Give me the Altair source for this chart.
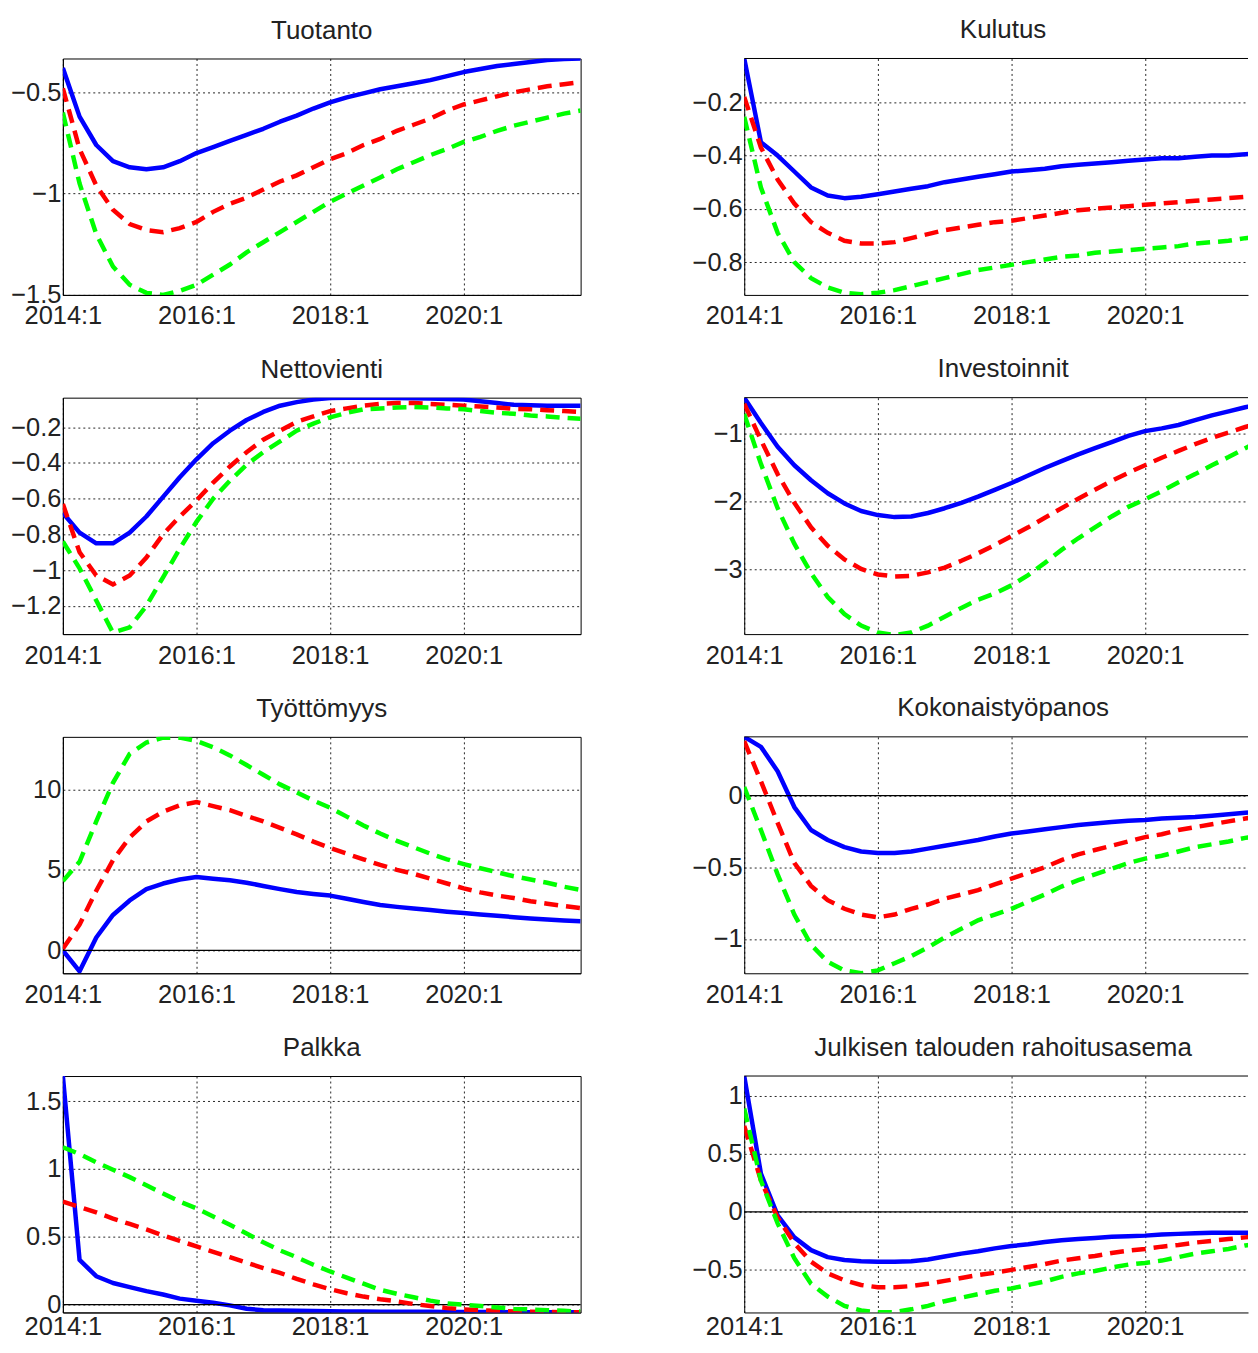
import altair as alt
import pandas as pd

# ---------------- data ----------------
quarter_index = list(range(32))          # 2014:1 ... 2021:4
x_tick_values = [0, 8, 16, 24]
x_tick_labels = ["2014:1", "2016:1", "2018:1", "2020:1"]

panel_titles = ["Tuotanto", "Kulutus", "Nettovienti", "Investoinnit",
                "Työttömyys", "Kokonaistyöpanos", "Palkka",
                "Julkisen talouden rahoitusasema"]

tuotanto_blue = [-0.38, -0.62, -0.76, -0.84, -0.87, -0.88, -0.87, -0.84, -0.80, -0.77, -0.74, -0.71, -0.68, -0.645, -0.615, -0.58,
                 -0.55, -0.525, -0.505, -0.485, -0.47, -0.455, -0.44, -0.42, -0.40, -0.385, -0.37, -0.36, -0.35, -0.34, -0.335, -0.333]
tuotanto_red = [-0.48, -0.78, -0.96, -1.08, -1.15, -1.18, -1.19, -1.17, -1.14, -1.09, -1.05, -1.02, -0.98, -0.94, -0.91, -0.87,
                -0.83, -0.80, -0.76, -0.73, -0.69, -0.66, -0.63, -0.59, -0.56, -0.54, -0.52, -0.50, -0.485, -0.47, -0.46, -0.45]
tuotanto_green = [-0.60, -0.95, -1.20, -1.36, -1.45, -1.49, -1.50, -1.48, -1.45, -1.40, -1.35, -1.29, -1.24, -1.19, -1.14, -1.09,
                  -1.04, -1.00, -0.96, -0.92, -0.88, -0.845, -0.81, -0.78, -0.745, -0.72, -0.69, -0.665, -0.645, -0.625, -0.605, -0.59]

kulutus_blue = [-0.036, -0.35, -0.40, -0.46, -0.52, -0.55, -0.56, -0.555, -0.545, -0.535, -0.525, -0.515, -0.50, -0.49, -0.48, -0.47,
                -0.46, -0.455, -0.45, -0.44, -0.435, -0.43, -0.425, -0.42, -0.415, -0.41, -0.41, -0.405, -0.40, -0.40, -0.395, -0.39]
kulutus_red = [-0.18, -0.37, -0.49, -0.58, -0.65, -0.69, -0.72, -0.73, -0.73, -0.725, -0.71, -0.695, -0.68, -0.67, -0.66, -0.65,
               -0.645, -0.635, -0.625, -0.615, -0.605, -0.60, -0.595, -0.59, -0.585, -0.58, -0.575, -0.57, -0.565, -0.56, -0.555, -0.55]
kulutus_green = [-0.255, -0.52, -0.69, -0.80, -0.86, -0.895, -0.915, -0.92, -0.915, -0.905, -0.89, -0.875, -0.86, -0.845, -0.83, -0.82,
                 -0.81, -0.80, -0.79, -0.78, -0.775, -0.765, -0.76, -0.755, -0.75, -0.745, -0.74, -0.73, -0.725, -0.72, -0.71, -0.705]

netto_blue = [-0.68, -0.79, -0.85, -0.85, -0.79, -0.70, -0.59, -0.48, -0.38, -0.29, -0.22, -0.16, -0.115, -0.08, -0.06, -0.045,
              -0.037, -0.035, -0.035, -0.036, -0.037, -0.038, -0.04, -0.042, -0.045, -0.055, -0.065, -0.075, -0.078, -0.08, -0.08, -0.08]
netto_red = [-0.63, -0.90, -1.03, -1.08, -1.03, -0.93, -0.80, -0.70, -0.61, -0.51, -0.42, -0.34, -0.27, -0.22, -0.17, -0.14,
             -0.11, -0.095, -0.08, -0.07, -0.065, -0.065, -0.07, -0.075, -0.08, -0.085, -0.09, -0.097, -0.10, -0.105, -0.11, -0.115]
netto_green = [-0.84, -0.99, -1.17, -1.35, -1.32, -1.20, -1.04, -0.88, -0.73, -0.60, -0.50, -0.41, -0.34, -0.28, -0.22, -0.18,
               -0.145, -0.12, -0.10, -0.095, -0.09, -0.087, -0.09, -0.095, -0.10, -0.11, -0.12, -0.125, -0.135, -0.14, -0.148, -0.153]

invest_blue = [-0.48, -0.85, -1.20, -1.47, -1.69, -1.88, -2.03, -2.14, -2.20, -2.23, -2.22, -2.17, -2.10, -2.02, -1.93, -1.83,
               -1.73, -1.62, -1.51, -1.41, -1.31, -1.22, -1.13, -1.04, -0.97, -0.93, -0.88, -0.81, -0.74, -0.68, -0.62, -0.57]
invest_red = [-0.57, -1.10, -1.60, -2.02, -2.38, -2.65, -2.85, -2.99, -3.07, -3.10, -3.09, -3.04, -2.97, -2.87, -2.76, -2.64,
              -2.51, -2.38, -2.24, -2.10, -1.96, -1.83, -1.70, -1.58, -1.47, -1.36, -1.26, -1.16, -1.07, -0.99, -0.91, -0.84]
invest_green = [-0.72, -1.45, -2.10, -2.62, -3.05, -3.40, -3.65, -3.82, -3.92, -3.96, -3.92, -3.82, -3.69, -3.56, -3.44, -3.35,
                -3.23, -3.08, -2.90, -2.71, -2.54, -2.38, -2.22, -2.08, -1.97, -1.85, -1.72, -1.60, -1.47, -1.35, -1.22, -1.10]

tyott_blue = [0.0, -1.3, 0.8, 2.2, 3.1, 3.8, 4.15, 4.4, 4.55, 4.45, 4.35, 4.2, 4.0, 3.8, 3.62, 3.5,
              3.4, 3.2, 3.0, 2.82, 2.7, 2.6, 2.5, 2.4, 2.32, 2.23, 2.15, 2.06, 1.98, 1.92, 1.86, 1.81]
tyott_red = [0.1, 1.6, 3.7, 5.6, 7.0, 8.0, 8.6, 9.0, 9.2, 8.95, 8.7, 8.35, 8.0, 7.6, 7.2, 6.75,
             6.35, 6.0, 5.65, 5.3, 5.0, 4.75, 4.45, 4.15, 3.85, 3.6, 3.4, 3.25, 3.05, 2.9, 2.75, 2.63]
tyott_green = [4.3, 5.5, 8.0, 10.4, 12.2, 12.9, 13.2, 13.2, 13.0, 12.6, 12.1, 11.5, 10.9, 10.3, 9.8, 9.3,
               8.85, 8.3, 7.75, 7.25, 6.8, 6.4, 6.0, 5.65, 5.35, 5.1, 4.85, 4.6, 4.4, 4.2, 3.95, 3.75]

koko_blue = [0.41, 0.34, 0.17, -0.08, -0.24, -0.31, -0.36, -0.39, -0.40, -0.40, -0.39, -0.37, -0.35, -0.33, -0.31, -0.285,
             -0.265, -0.25, -0.235, -0.22, -0.205, -0.195, -0.185, -0.175, -0.17, -0.16, -0.155, -0.15, -0.14, -0.13, -0.12, -0.11]
koko_red = [0.38, 0.10, -0.19, -0.47, -0.63, -0.73, -0.79, -0.83, -0.85, -0.83, -0.79, -0.76, -0.72, -0.69, -0.66, -0.62,
            -0.58, -0.54, -0.50, -0.45, -0.41, -0.38, -0.35, -0.32, -0.29, -0.27, -0.24, -0.22, -0.20, -0.18, -0.16, -0.14]
koko_green = [0.06, -0.24, -0.55, -0.83, -1.04, -1.16, -1.22, -1.24, -1.22, -1.17, -1.12, -1.06, -0.99, -0.93, -0.87, -0.83,
              -0.79, -0.74, -0.69, -0.635, -0.59, -0.55, -0.51, -0.47, -0.44, -0.42, -0.39, -0.36, -0.34, -0.32, -0.295, -0.28]

palkka_blue = [1.685, 0.33, 0.21, 0.16, 0.13, 0.10, 0.075, 0.045, 0.03, 0.015, -0.005, -0.03, -0.04, -0.042, -0.044, -0.046,
               -0.048, -0.05, -0.05, -0.051, -0.051, -0.052, -0.052, -0.053, -0.053, -0.054, -0.054, -0.055, -0.055, -0.055, -0.055, -0.055]
palkka_red = [0.76, 0.72, 0.68, 0.635, 0.595, 0.555, 0.51, 0.47, 0.43, 0.39, 0.35, 0.31, 0.27, 0.235, 0.19, 0.15,
              0.115, 0.085, 0.06, 0.04, 0.025, 0.005, -0.01, -0.025, -0.035, -0.04, -0.045, -0.05, -0.052, -0.054, -0.055, -0.055]
palkka_green = [1.16, 1.11, 1.05, 0.995, 0.94, 0.88, 0.82, 0.76, 0.71, 0.65, 0.59, 0.525, 0.46, 0.40, 0.35, 0.295,
                0.245, 0.20, 0.155, 0.11, 0.08, 0.055, 0.03, 0.01, 0.0, -0.01, -0.02, -0.03, -0.035, -0.04, -0.045, -0.05]

julk_blue = [1.17, 0.33, -0.03, -0.22, -0.33, -0.39, -0.415, -0.425, -0.43, -0.43, -0.425, -0.41, -0.385, -0.36, -0.34, -0.315,
             -0.295, -0.28, -0.26, -0.245, -0.235, -0.225, -0.215, -0.21, -0.205, -0.195, -0.19, -0.185, -0.18, -0.18, -0.18, -0.18]
julk_red = [0.74, 0.27, -0.05, -0.27, -0.43, -0.53, -0.59, -0.63, -0.65, -0.65, -0.64, -0.62, -0.595, -0.57, -0.545, -0.525,
            -0.50, -0.475, -0.45, -0.42, -0.40, -0.38, -0.355, -0.335, -0.32, -0.30, -0.285, -0.265, -0.25, -0.235, -0.22, -0.205]
julk_green = [0.89, 0.27, -0.10, -0.40, -0.62, -0.73, -0.81, -0.85, -0.865, -0.865, -0.84, -0.81, -0.77, -0.74, -0.71, -0.68,
              -0.66, -0.63, -0.60, -0.56, -0.53, -0.51, -0.48, -0.455, -0.44, -0.42, -0.39, -0.36, -0.34, -0.32, -0.29, -0.275]

blue_series = [tuotanto_blue, kulutus_blue, netto_blue, invest_blue, tyott_blue, koko_blue, palkka_blue, julk_blue]
red_series = [tuotanto_red, kulutus_red, netto_red, invest_red, tyott_red, koko_red, palkka_red, julk_red]
green_series = [tuotanto_green, kulutus_green, netto_green, invest_green, tyott_green, koko_green, palkka_green, julk_green]

y_domains = [[-1.5, -0.333], [-0.923, -0.036], [-1.358, -0.035], [-3.944, -0.48],
             [-1.42, 13.25], [-1.24, 0.41], [-0.057, 1.685], [-0.867, 1.17]]
y_ticks = [[-1.5, -1, -0.5], [-0.8, -0.6, -0.4, -0.2], [-1.2, -1, -0.8, -0.6, -0.4, -0.2], [-3, -2, -1],
           [0, 5, 10], [-1, -0.5, 0], [0, 0.5, 1, 1.5], [-0.5, 0, 0.5, 1]]

# ---------------- style ----------------
BLUE, RED, GREEN = "#0000ff", "#ff0000", "#00ff00"
FONT = "Liberation Sans"
LEFT_W, RIGHT_W, PANEL_H = 519, 505, 237
LINE_W = 4.5
DASH = [14, 8]

label_expr = " : ".join(f"datum.value == {v} ? '{t}'" for v, t in zip(x_tick_values, x_tick_labels)) + " : ''"


def make_panel(i):
    right = (i % 2 == 1)
    bottom_row = (i >= 6)
    w = RIGHT_W if right else LEFT_W
    xmax = 31 * w / LEFT_W
    df = pd.DataFrame({
        "q": quarter_index * 3,
        "v": blue_series[i] + red_series[i] + green_series[i],
        "s": ["b"] * 32 + ["r"] * 32 + ["g"] * 32,
    })
    xenc = alt.X("q:Q", scale=alt.Scale(domain=[0, xmax], nice=False, zero=False),
                 axis=alt.Axis(values=x_tick_values, labelExpr=label_expr, title=None, grid=True,
                               ticks=False, labelFlush=False, labelOverlap=False,
                               labelPadding=2 if bottom_row else 9))
    yenc = alt.Y("v:Q", scale=alt.Scale(domain=y_domains[i], nice=False, zero=False),
                 axis=alt.Axis(values=y_ticks[i], format=".6~g", title=None, grid=True, ticks=False,
                               labelPadding=2, labelOverlap=False))
    base = alt.Chart(df)
    layers = [
        base.transform_filter(alt.datum.s == "b").mark_line(color=BLUE, strokeWidth=LINE_W, clip=True,
                                                            strokeJoin="round").encode(x=xenc, y=yenc),
    ]
    lo, hi = y_domains[i]
    if lo < 0 < hi:
        layers.append(alt.Chart(pd.DataFrame({"v": [0.0]})).mark_rule(color="black", strokeWidth=1.2)
                      .encode(y=yenc))
    layers.append(base.transform_filter(alt.datum.s == "r").mark_line(color=RED, strokeWidth=LINE_W, clip=True,
                                                                      strokeDash=DASH, strokeCap="butt")
                  .encode(x=xenc, y=yenc))
    layers.append(base.transform_filter(alt.datum.s == "g").mark_line(color=GREEN, strokeWidth=LINE_W, clip=True,
                                                                      strokeDash=DASH, strokeCap="butt")
                  .encode(x=xenc, y=yenc))
    props = dict(width=w, height=PANEL_H,
                 title=alt.TitleParams(text=panel_titles[i], font=FONT, fontSize=26, fontWeight="normal",
                                       color="#222222", offset=15, dx=7 if right else 0))
    if right:
        layers.append(alt.Chart(pd.DataFrame({"v": [0.0]})).mark_rule(color="black", strokeWidth=1)
                      .encode(x=alt.value(0), x2=alt.value(w), y=alt.value(0)))
        props["view"] = alt.ViewBackground(stroke="transparent")
    return alt.layer(*layers).properties(**props)


panels = [make_panel(i) for i in range(8)]

chart = (
    alt.concat(*panels, columns=2, spacing=alt.RowColnumber(row=103, column=164), bounds="flush")
    .properties(padding={"left": 2, "top": 7, "right": 0, "bottom": -2})
    .configure_view(stroke="black", strokeWidth=1)
    .configure_axis(domainColor="black", domainWidth=1, gridColor="black", gridDash=[2, 3], gridWidth=1,
                    gridOpacity=0.85, labelFont=FONT, labelFontSize=25.5, labelColor="#222222")
)

chart.save("out.html", embed_options={"renderer": "svg", "actions": False})
